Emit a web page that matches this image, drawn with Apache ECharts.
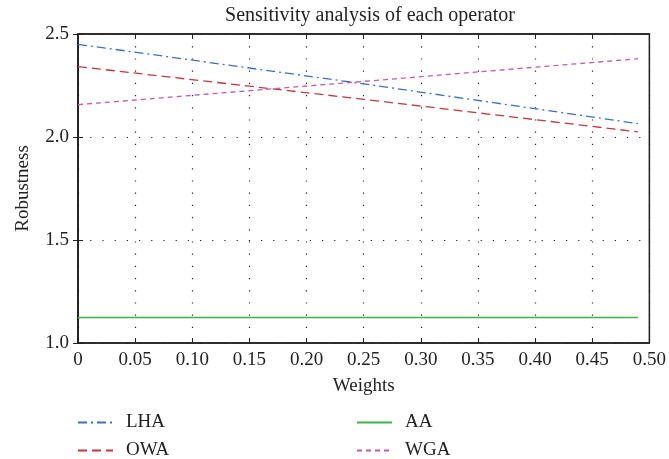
<!DOCTYPE html>
<html><head><meta charset="utf-8">
<script src="https://cdn.jsdelivr.net/npm/echarts@6/dist/echarts.min.js"></script>
<style>html,body{margin:0;padding:0;background:#fff}#c{width:669px;height:459px}</style>
</head><body><div id="c"></div>
<script>
const weights = [0, 0.25, 0.49];
const LHA = [2.45, 2.258, 2.065];
const OWA = [2.342, 2.183, 2.025];
const AA  = [1.124, 1.124, 1.124];
const WGA = [2.157, 2.27, 2.38];
const seriesNames = ['LHA', 'OWA', 'AA', 'WGA'];
const xTicks = {min: 0, max: 0.5, step: 0.05};
const yTicks = {min: 1.0, max: 2.5, step: 0.5};

const font = '"Liberation Serif", "DejaVu Serif", serif';
const pair = (arr) => weights.map((w, i) => [w, arr[i]]);
const gridLine = {show: true, lineStyle: {color: '#222', type: [1.2, 11], width: 1.2}};
const legendBase = {orient: 'vertical', top: 408, height: 60, itemWidth: 35, itemHeight: 10, itemGap: 9,
  itemStyle: {opacity: 0},
  textStyle: {fontFamily: font, fontSize: 19, color: '#222', padding: [0, 0, 0, 8]}};

const chart = echarts.init(document.getElementById('c'));
chart.setOption({
  backgroundColor: '#fff',
  animation: false,
  title: {text: 'Sensitivity analysis of each operator', left: 365, top: 1, textAlign: 'center',
    textStyle: {fontFamily: font, fontSize: 20, fontWeight: 'normal', color: '#222'}},
  grid: {left: 78, right: 17, top: 34, bottom: 116, show: true, borderColor: '#222', borderWidth: 1.5},
  legend: [
    Object.assign({data: ['LHA', 'OWA'], left: 72}, legendBase),
    Object.assign({data: ['AA', 'WGA'], left: 351}, legendBase)
  ],
  xAxis: [{
    type: 'value', min: xTicks.min, max: xTicks.max, interval: xTicks.step,
    name: 'Weights', nameLocation: 'middle', nameGap: 34,
    nameTextStyle: {fontFamily: font, fontSize: 19, color: '#222'},
    axisLine: {show: true, lineStyle: {color: '#222', width: 1.5}},
    axisTick: {show: true, inside: true, length: 5, lineStyle: {color: '#222'}},
    axisLabel: {fontFamily: font, fontSize: 19, color: '#222', margin: 8,
      formatter: v => v === 0 ? '0' : v.toFixed(2)},
    splitLine: gridLine
  }, {
    type: 'value', position: 'top', min: xTicks.min, max: xTicks.max, interval: xTicks.step,
    axisLine: {show: true, lineStyle: {color: '#222', width: 1.5}},
    axisTick: {show: true, inside: true, length: 5, lineStyle: {color: '#222'}},
    axisLabel: {show: false}, splitLine: {show: false}
  }],
  yAxis: [{
    type: 'value', min: yTicks.min, max: yTicks.max, interval: yTicks.step,
    name: 'Robustness', nameLocation: 'middle', nameGap: 45,
    nameTextStyle: {fontFamily: font, fontSize: 19, color: '#222'},
    axisLine: {show: true, lineStyle: {color: '#222', width: 1.5}},
    axisTick: {show: true, inside: true, length: 5, lineStyle: {color: '#222'}},
    axisLabel: {fontFamily: font, fontSize: 19, color: '#222', margin: 9,
      formatter: v => v.toFixed(1)},
    splitLine: gridLine
  }, {
    type: 'value', position: 'right', min: yTicks.min, max: yTicks.max, interval: yTicks.step,
    axisLine: {show: true, lineStyle: {color: '#222', width: 1.5}},
    axisTick: {show: true, inside: true, length: 5, lineStyle: {color: '#222'}},
    axisLabel: {show: false}, splitLine: {show: false}
  }],
  series: [
    {name: 'LHA', type: 'line', data: pair(LHA), symbol: 'none', color: '#3b6fc2',
     lineStyle: {width: 1.3, type: [9, 4, 2, 4]}},
    {name: 'OWA', type: 'line', data: pair(OWA), symbol: 'none', color: '#c0393c',
     lineStyle: {width: 1.3, type: [9, 5]}},
    {name: 'AA', type: 'line', data: pair(AA), symbol: 'none', color: '#3cb44a',
     lineStyle: {width: 1.5, type: 'solid'}},
    {name: 'WGA', type: 'line', data: pair(WGA), symbol: 'none', color: '#c458b2',
     lineStyle: {width: 1.3, type: [5, 4]}}
  ]
});
</script></body></html>
